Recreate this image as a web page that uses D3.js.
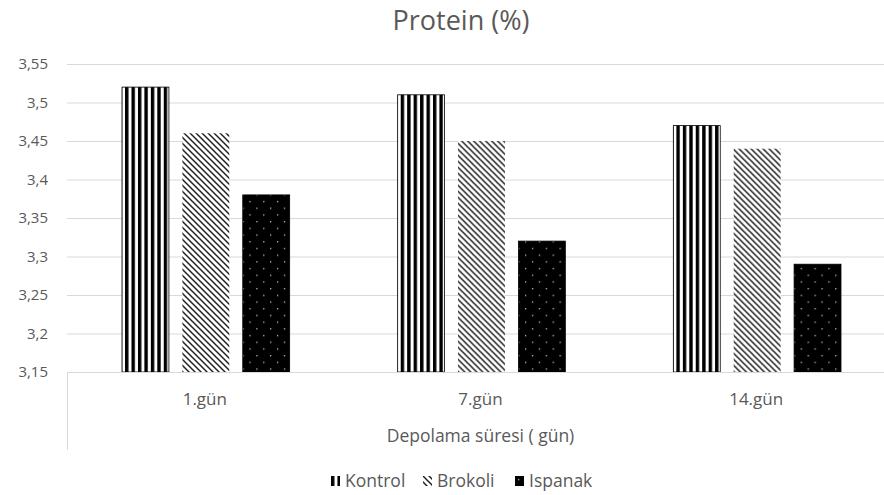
<!DOCTYPE html>
<html>
<head>
<meta charset="utf-8">
<script src="https://cdn.jsdelivr.net/npm/d3@7"></script>
<style>
  body { margin: 0; background: #fff; overflow: hidden; }
  text { font-family: "Open Sans", "Noto Sans", sans-serif; fill: #595959; }
</style>
</head>
<body>
<div id="chart"></div>
<script>
// chart data
var categories = ["1.gün", "7.gün", "14.gün"];
var seriesNames = ["Kontrol", "Brokoli", "Ispanak"];
var kontrol = [3.52, 3.51, 3.47];
var brokoli = [3.46, 3.45, 3.44];
var ispanak = [3.38, 3.32, 3.29];
var yTicks = [3.15, 3.2, 3.25, 3.3, 3.35, 3.4, 3.45, 3.5, 3.55];

var seriesValues = [kontrol, brokoli, ispanak];

var svgWidth = 884;
var svgHeight = 495;
// the plot runs a little past the right edge of the picture (cropped)
var margin = { top: 64, right: -10, bottom: 123, left: 67 };
var width = svgWidth - margin.left - margin.right;
var height = svgHeight - margin.top - margin.bottom;

var svg = d3.select("#chart")
  .append("svg")
  .attr("width", svgWidth)
  .attr("height", svgHeight)
  .style("display", "block");

// fill patterns
var defs = svg.append("defs");

var pStripe = defs.append("pattern")
  .attr("id", "pat-kontrol")
  .attr("patternUnits", "userSpaceOnUse")
  .attr("width", 6.45).attr("height", 10);
pStripe.append("rect").attr("width", 6.45).attr("height", 10).attr("fill", "#fff");
pStripe.append("rect").attr("width", 3.4).attr("height", 10).attr("fill", "#000");

var pDiag = defs.append("pattern")
  .attr("id", "pat-brokoli")
  .attr("patternUnits", "userSpaceOnUse")
  .attr("width", 6).attr("height", 6);
pDiag.append("rect").attr("width", 6).attr("height", 6).attr("fill", "#fff");
pDiag.append("path")
  .attr("d", "M-1,-1L7,7M-1,5L1,7M5,-1L7,1")
  .attr("stroke", "#222")
  .attr("stroke-width", 1.5);

var pDots = defs.append("pattern")
  .attr("id", "pat-ispanak")
  .attr("patternUnits", "userSpaceOnUse")
  .attr("width", 13.8).attr("height", 13.4);
pDots.append("rect").attr("width", 13.8).attr("height", 13.4).attr("fill", "#000");
pDots.append("rect").attr("x", 3).attr("y", 3).attr("width", 1.2).attr("height", 1.2).attr("fill", "#ddd");
pDots.append("rect").attr("x", 9.9).attr("y", 9.7).attr("width", 1.2).attr("height", 1.2).attr("fill", "#ddd");

var fills = ["url(#pat-kontrol)", "url(#pat-brokoli)", "url(#pat-ispanak)"];
var strokes = ["#000", "none", "#000"];

var chartGroup = svg.append("g")
  .attr("transform", `translate(${margin.left}, ${margin.top})`);

// scales
var x0 = d3.scaleBand()
  .domain(categories)
  .range([0, width]);

var x1 = d3.scaleBand()
  .domain(seriesNames)
  .range([55, x0.bandwidth() - 53])
  .paddingInner(0.223);

var y = d3.scaleLinear()
  .domain([3.15, 3.55])
  .range([height, 0]);

// gridlines
chartGroup.append("g")
  .call(d3.axisLeft(y)
    .tickValues(yTicks.slice(1))
    .tickSize(-width)
    .tickFormat(""))
  .call(g => g.select(".domain").remove())
  .call(g => g.selectAll("line").attr("stroke", "#d9d9d9"));

// y labels
var fmt = d3.format(".2~f");
chartGroup.append("g")
  .call(d3.axisLeft(y)
    .tickValues(yTicks)
    .tickSize(0)
    .tickPadding(19)
    .tickFormat(d => fmt(d).replace(".", ",")))
  .call(g => g.select(".domain").remove())
  .call(g => g.selectAll("text").style("font-size", "15px").attr("fill", "#595959"));

// bars
var groups = chartGroup.selectAll(".cat")
  .data(categories)
  .enter()
  .append("g")
  .attr("transform", d => `translate(${x0(d)}, 0)`);

groups.selectAll("rect")
  .data((d, i) => seriesNames.map((s, j) => ({ s: s, j: j, v: seriesValues[j][i] })))
  .enter()
  .append("rect")
  .attr("x", d => x1(d.s))
  .attr("y", d => y(d.v))
  .attr("width", x1.bandwidth())
  .attr("height", d => height - y(d.v))
  .attr("fill", d => fills[d.j])
  .attr("stroke", d => strokes[d.j])
  .attr("stroke-width", 0.8);

// category axis box
chartGroup.append("line")
  .attr("x1", 0).attr("x2", width)
  .attr("y1", height + 0.5).attr("y2", height + 0.5)
  .attr("stroke", "#d9d9d9");
chartGroup.append("line")
  .attr("x1", 0.5).attr("x2", 0.5)
  .attr("y1", height).attr("y2", height + 78)
  .attr("stroke", "#d9d9d9");

chartGroup.append("g")
  .selectAll("text")
  .data(categories)
  .enter()
  .append("text")
  .attr("x", d => x0(d) + x0.bandwidth() / 2)
  .attr("y", height + 33)
  .attr("text-anchor", "middle")
  .style("font-size", "17px")
  .text(d => d);

// axis title
chartGroup.append("text")
  .attr("x", width / 2)
  .attr("y", height + 70)
  .attr("text-anchor", "middle")
  .style("font-size", "17.5px")
  .text("Depolama süresi ( gün)");

// title
svg.append("text")
  .attr("x", 461)
  .attr("y", 30)
  .attr("text-anchor", "middle")
  .style("font-size", "27px")
  .text("Protein (%)");

// legend
var legendX = [331, 423, 515];
var legend = svg.append("g");
seriesNames.forEach(function(name, j) {
  var item = legend.append("g").attr("transform", `translate(${legendX[j]}, 476)`);
  item.append("rect")
    .attr("width", 9).attr("height", 10)
    .attr("fill", fills[j]);
  item.append("text")
    .attr("x", 14)
    .attr("y", 11)
    .style("font-size", "17.5px")
    .text(name);
});
</script>
</body>
</html>
